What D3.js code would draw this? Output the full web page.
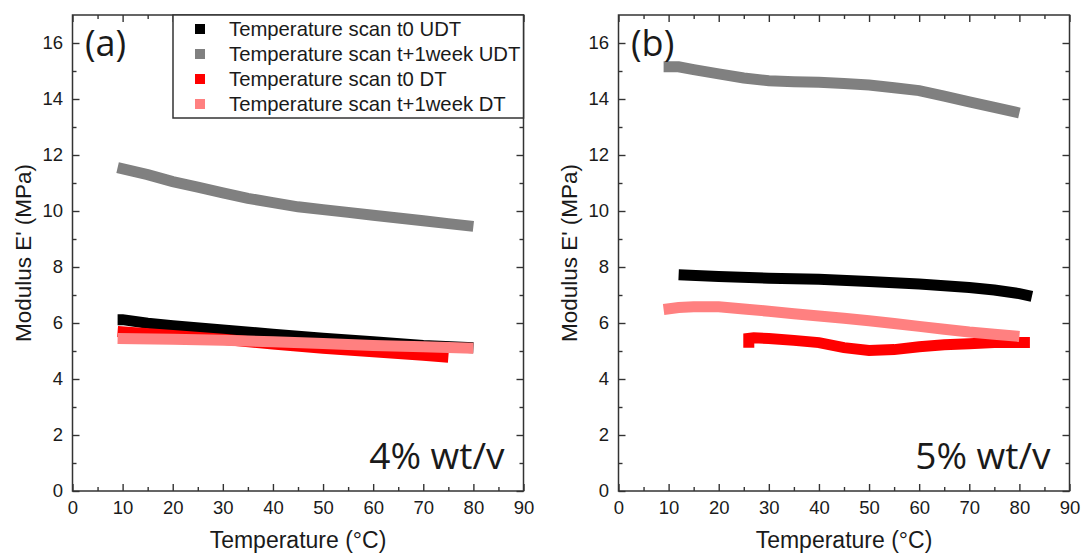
<!DOCTYPE html>
<html>
<head>
<meta charset="utf-8">
<script src="https://cdn.jsdelivr.net/npm/d3@7/dist/d3.min.js"></script>
<style>
  body { margin: 0; background: #fff; }
  text { font-family: "Liberation Sans", Arial, sans-serif; fill: #1a1a1a; }
</style>
</head>
<body>
<div id="chart"></div>
<script>

var seriesNames = ["Temperature scan t0 UDT", "Temperature scan t+1week UDT", "Temperature scan t0 DT", "Temperature scan t+1week DT"];
var seriesColors = ["#000000", "#808080", "#ff0000", "#ff8080"];

var xTicks = [0, 10, 20, 30, 40, 50, 60, 70, 80, 90];
var xMinor = [5, 15, 25, 35, 45, 55, 65, 75, 85];
var yTicks = [0, 2, 4, 6, 8, 10, 12, 14, 16];
var yMinor = [1, 3, 5, 7, 9, 11, 13, 15];

// panel (a) 4% wt/v : [temperature, modulus]
var a_t0UDT = [[9, 6.12], [10, 6.12], [15, 5.99], [20, 5.9], [30, 5.75], [40, 5.6], [50, 5.46], [60, 5.33], [70, 5.2], [80, 5.12]];
var a_t1wUDT = [[9, 11.55], [15, 11.3], [20, 11.05], [25, 10.85], [30, 10.65], [35, 10.45], [40, 10.3], [45, 10.15], [50, 10.05], [55, 9.95], [60, 9.85], [65, 9.75], [70, 9.65], [75, 9.55], [80, 9.45]];
var a_t0DT = [[9, 5.7], [20, 5.55], [30, 5.42], [40, 5.25], [50, 5.1], [60, 4.97], [70, 4.85], [75, 4.78]];
var a_t1wDT = [[9, 5.45], [20, 5.42], [30, 5.38], [40, 5.33], [50, 5.27], [60, 5.2], [70, 5.15], [80, 5.1]];

// panel (b) 5% wt/v
var b_t0UDT = [[12, 7.72], [20, 7.66], [30, 7.6], [40, 7.56], [50, 7.48], [60, 7.39], [70, 7.27], [75, 7.18], [80, 7.05], [82.5, 6.95]];
var b_t1wUDT = [[9, 15.15], [12, 15.15], [15, 15.05], [20, 14.9], [25, 14.75], [30, 14.65], [35, 14.62], [40, 14.6], [45, 14.55], [50, 14.5], [55, 14.4], [60, 14.3], [65, 14.1], [70, 13.9], [75, 13.7], [80, 13.5]];
var b_t0DT = [[26, 5.12], [26, 5.45], [27, 5.47], [30, 5.45], [35, 5.38], [40, 5.3], [45, 5.12], [50, 5.02], [55, 5.05], [60, 5.15], [65, 5.22], [70, 5.26], [75, 5.3], [81, 5.3], [81, 5.5]];
var b_t1wDT = [[9, 6.48], [12, 6.55], [15, 6.58], [20, 6.58], [25, 6.5], [30, 6.42], [35, 6.33], [40, 6.25], [45, 6.17], [50, 6.08], [55, 5.98], [60, 5.88], [65, 5.78], [70, 5.68], [75, 5.6], [80, 5.52]];

var panels = [
  { left: 72.5, label: "(a)", conc: "4% wt/v", series: [a_t0UDT, a_t1wUDT, a_t0DT, a_t1wDT], legend: true },
  { left: 618.5, label: "(b)", conc: "5% wt/v", series: [b_t0UDT, b_t1wUDT, b_t0DT, b_t1wDT], legend: false }
];

var marginTop = 15, plotW = 451, plotH = 476;

var svg = d3.select("#chart").append("svg")
    .attr("width", 1082)
    .attr("height", 555);

var x = d3.scaleLinear().domain([0, 90]).range([0, plotW]);
var y = d3.scaleLinear().domain([0, 17]).range([plotH, 0]);

var line = d3.line()
    .x(d => x(d[0]))
    .y(d => y(d[1]));

panels.forEach(function (p) {
  var g = svg.append("g").attr("transform", "translate(" + p.left + "," + marginTop + ")");

  // data bands
  g.selectAll("path.band")
    .data(p.series)
    .enter()
    .append("path")
    .attr("class", "band")
    .attr("d", line)
    .attr("fill", "none")
    .attr("stroke", (d, i) => seriesColors[i])
    .attr("stroke-width", 11)
    .attr("stroke-linejoin", "miter");

  // axes with inward ticks
  g.append("g").attr("transform", "translate(0," + plotH + ")")
    .call(d3.axisBottom(x).tickValues(xTicks).tickSize(-7).tickSizeOuter(0).tickPadding(10));
  g.append("g").attr("transform", "translate(0," + plotH + ")")
    .call(d3.axisBottom(x).tickValues(xMinor).tickSize(-4).tickFormat(""));
  g.append("g")
    .call(d3.axisLeft(y).tickValues(yTicks).tickSize(-7).tickSizeOuter(0).tickPadding(9.5));
  g.append("g").call(d3.axisLeft(y).tickValues(yMinor).tickSize(-4).tickFormat(""));
  g.append("g").call(d3.axisTop(x).tickValues(xTicks).tickSize(-7).tickFormat(""));
  g.append("g").call(d3.axisTop(x).tickValues(xMinor).tickSize(-4).tickFormat(""));
  g.append("g").attr("transform", "translate(" + plotW + ",0)")
    .call(d3.axisRight(y).tickValues(yTicks).tickSize(-7).tickFormat(""));
  g.append("g").attr("transform", "translate(" + plotW + ",0)")
    .call(d3.axisRight(y).tickValues(yMinor).tickSize(-4).tickFormat(""));

  g.selectAll(".domain").remove();
  g.selectAll(".tick line").attr("stroke", "#333").attr("stroke-width", 1.4);
  g.selectAll(".tick text").attr("font-size", 18.5).attr("fill", "#1a1a1a")
    .style("font-family", "'Liberation Sans', Arial, sans-serif");

  g.append("rect")
    .attr("width", plotW)
    .attr("height", plotH)
    .attr("fill", "none")
    .attr("stroke", "#333")
    .attr("stroke-width", 1.5);

  // titles
  g.append("text")
    .attr("x", plotW / 2)
    .attr("y", plotH + 57)
    .attr("text-anchor", "middle")
    .attr("font-size", 23)
    .text("Temperature (°C)");

  g.append("text")
    .attr("transform", "translate(-49.5," + plotH / 2 + ") rotate(-90)")
    .attr("text-anchor", "middle")
    .attr("dy", "0.35em")
    .attr("font-size", 22.5)
    .text("Modulus E' (MPa)");

  g.append("text")
    .attr("x", 12.5)
    .attr("y", 41)
    .attr("font-size", 36)
    .style("font-family", "'Open Sans', 'Noto Sans', sans-serif")
    .text(p.label);

  g.append("text")
    .attr("x", plotW - 19)
    .attr("y", 454)
    .attr("text-anchor", "end")
    .attr("font-size", 37)
    .style("font-family", "'Open Sans', 'Noto Sans', sans-serif")
    .text(p.conc);

  if (p.legend) {
    var lg = g.append("g").attr("transform", "translate(100.5,0)");
    lg.append("rect")
      .attr("width", plotW - 100.5)
      .attr("height", 103)
      .attr("fill", "#fff")
      .attr("stroke", "#333")
      .attr("stroke-width", 1.5);
    var rows = lg.selectAll("g.row")
      .data(seriesNames)
      .enter()
      .append("g")
      .attr("class", "row")
      .attr("transform", (d, i) => "translate(0," + (14 + i * 25) + ")");
    rows.append("rect")
      .attr("x", 22)
      .attr("y", -5)
      .attr("width", 10)
      .attr("height", 10)
      .attr("fill", (d, i) => seriesColors[i]);
    rows.append("text")
      .attr("x", 56)
      .attr("dy", "0.35em")
      .attr("font-size", 20.3)
      .text(d => d);
  }
});
</script>
</body>
</html>
